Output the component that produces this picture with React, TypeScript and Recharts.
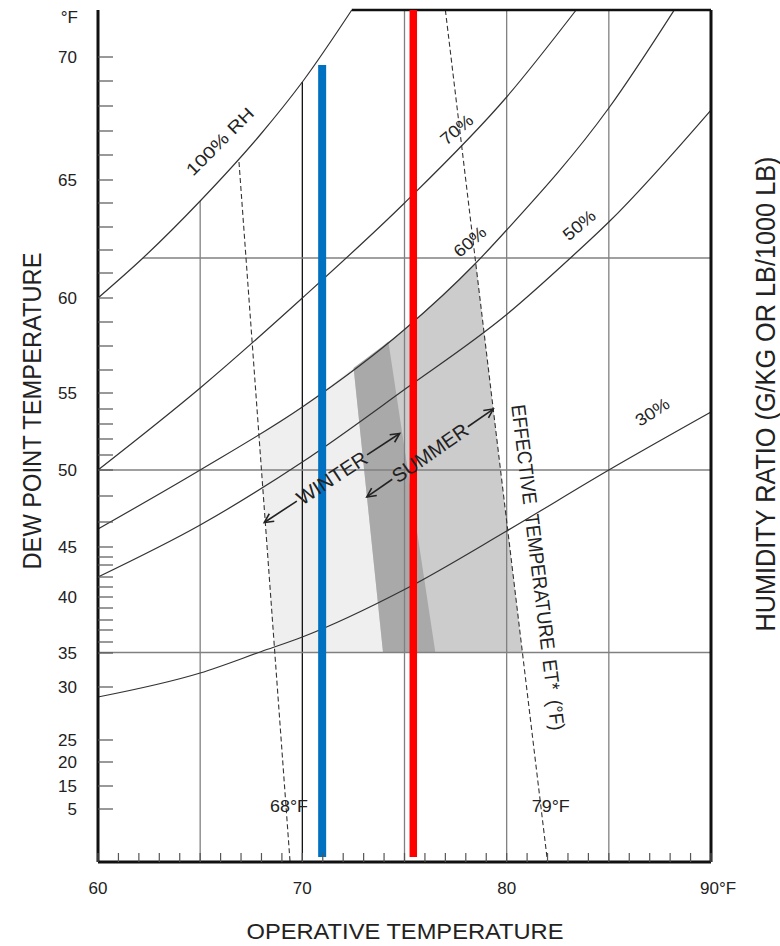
import React from 'react';
import { ComposedChart, Line, Area, Scatter, XAxis, YAxis } from 'recharts';

// operative temperature (°F) against humidity ratio (g/kg)
const W_TOP = 17.04;

const rh100 = [[60, 11.28], [62.2, 12.08], [65, 13.22], [67.95, 14.55], [70, 15.6], [72.42, W_TOP]];
const rh70 = [[60, 7.84], [65, 9.48], [70, 11.28], [75, 13.18], [80, 15.3], [83.4, W_TOP]];
const rh60 = [[60, 6.66], [65, 7.84], [70, 9.1], [75, 10.65], [78.47, 11.97], [80, 12.64], [85, 15.08], [88.2, W_TOP]];
const rh50 = [[60, 5.7], [65, 6.74], [70, 8.0], [75, 9.45], [80, 10.95], [83.12, 12.08], [85, 12.8], [90, 15.04]];
const rh30 = [[60, 3.3], [65, 3.78], [68, 4.21], [70, 4.5], [75, 5.45], [80, 6.62], [85, 7.84], [90, 9.0]];

// effective temperature lines (dashed)
const et68 = [[66.9, 14.0], [69.4, 0]];
const et79 = [[77.0, W_TOP], [82.0, 0]];

// comfort zones: [temp, low, high]
const winterZone = [[67.87, 8.56, 8.56], [68.65, 4.19, 8.76], [70, 4.19, 9.1], [72, 4.19, 9.72], [74.21, 4.19, 10.41], [76.51, 4.19, 4.19]];
const summerZone = [[72.51, 9.88, 9.88], [73.95, 4.19, 10.32], [75, 4.19, 10.65], [76.6, 4.19, 11.24], [78.49, 4.19, 11.98], [80.77, 4.19, 4.19]];
const overlapZone = [[72.51, 9.88, 9.88], [73.95, 4.19, 10.32], [74.21, 4.19, 10.41], [76.51, 4.19, 4.19]];

// grid
const gridTemps = [65, 70, 75, 80, 85];
const gridTops = [13.22, 15.6, W_TOP, W_TOP, W_TOP];
const dewLineW = [12.08, 7.84, 4.19];
const dewLineStart = [62.2, 60, 60];
const topEdge = [[72.42, W_TOP], [90, W_TOP]];

// set points
const blueLine = [[70.97, 0.1], [70.97, 15.94]];
const redLine = [[75.43, 0.1], [75.43, W_TOP]];

// axes
const tempTicks = [60, 61, 62, 63, 64, 65, 66, 67, 68, 69, 70, 71, 72, 73, 74, 75, 76, 77, 78, 79, 80, 81, 82, 83, 84, 85, 86, 87, 88, 89, 90];
const tempLabels: Record<number, string> = { 60: '60', 70: '70', 80: '80', 90: '90°F' };
const dewTicks = [16.1, 15.62, 15.12, 14.62, 14.14, 13.64, 13.18, 12.7, 12.24, 11.78, 11.28, 10.8, 10.32, 9.84, 9.38, 9.06, 8.76, 8.46, 8.14, 7.84, 7.32, 6.8, 6.3, 6.1, 5.94, 5.7, 5.5, 5.3, 5.08, 4.84, 4.64, 4.4, 4.18, 3.5, 2.44, 2.0, 1.52, 1.06];
const dewLabels: Array<[number, string]> = [[16.1, '70'], [13.64, '65'], [11.28, '60'], [9.38, '55'], [7.84, '50'], [6.3, '45'], [5.3, '40'], [4.18, '35'], [3.5, '30'], [2.44, '25'], [2.0, '20'], [1.52, '15'], [1.06, '5']];
const ratioTicks = [1, 2, 3, 4, 5, 6, 7, 8, 9, 10, 11, 12, 13, 14, 15, 16];
const ratioLabels: Record<number, string> = { 5: '5', 10: '10', 15: '15' };

// in-plot annotations
const notes = [
  { t: 65.97, w: 14.41, text: '100% RH', angle: -45, size: 17, len: 88 },
  { t: 77.55, w: 14.65, text: '70%', angle: -40, size: 17, len: 37 },
  { t: 78.2, w: 12.41, text: '60%', angle: -41, size: 17, len: 37 },
  { t: 83.55, w: 12.74, text: '50%', angle: -40, size: 17, len: 37 },
  { t: 87.13, w: 9.0, text: '30%', angle: -33, size: 17, len: 37 },
  { t: 69.35, w: 1.11, text: '68°F', angle: 0, size: 17, len: 38 },
  { t: 82.16, w: 1.11, text: '79°F', angle: 0, size: 17, len: 38 },
  { t: 81.54, w: 5.89, text: 'EFFECTIVE  TEMPERATURE  ET*  (°F)', angle: 83, size: 20, len: 328 },
  { t: 71.45, w: 7.68, text: 'WINTER', angle: -33.3, size: 20, len: 80, arrow: 81 },
  { t: 76.25, w: 8.18, text: 'SUMMER', angle: -34.8, size: 20, len: 88, arrow: 77 },
];

const FONT = '"Liberation Sans", Arial, sans-serif';
const INK = '#222';

const toPts = (arr: number[][]) => arr.map(([t, w]) => ({ t, w }));
const toRange = (arr: number[][]) => arr.map(([t, lo, hi]) => ({ t, r: [lo, hi] }));

const XTick = ({ x, y, payload }: any) => {
  const v = payload.value;
  const lab = tempLabels[v];
  return (
    <g>
      <line x1={x} y1={y} x2={x} y2={y - 9} stroke="#555" strokeWidth={1.2} />
      {lab && (
        <text x={v === 90 ? x - 11 : x} y={y + 32} textAnchor={v === 90 ? 'start' : 'middle'} fontSize={17} fontFamily={FONT} fill={INK}>
          {lab}
        </text>
      )}
    </g>
  );
};

const DewTick = ({ x, y, payload }: any) => {
  const found = dewLabels.find(([w]) => Math.abs(w - payload.value) < 0.001);
  return (
    <g>
      <line x1={x} y1={y} x2={x + 15} y2={y} stroke="#555" strokeWidth={1.2} />
      {found && (
        <text x={x - 21} y={y + 6} textAnchor="end" fontSize={17} fontFamily={FONT} fill={INK}>
          {found[1]}
        </text>
      )}
    </g>
  );
};

const RatioTick = ({ x, y, payload }: any) => {
  const lab = ratioLabels[payload.value];
  return (
    <g>
      <line x1={x} y1={y} x2={x - 16} y2={y} stroke="#555" strokeWidth={1.2} />
      {lab && (
        <text x={x + 13} y={y + 6} textAnchor="start" fontSize={17} fontFamily={FONT} fill={INK}>
          {lab}
        </text>
      )}
    </g>
  );
};

const Note = (props: any) => {
  const { cx, cy, payload } = props;
  const { text, angle, size, len, arrow } = payload;
  const half = len / 2;
  return (
    <g transform={`rotate(${angle} ${cx} ${cy})`}>
      <text x={cx} y={cy} dy="0.35em" textAnchor="middle" fontSize={size} fontFamily={FONT} fill={INK}
        textLength={len} lengthAdjust="spacingAndGlyphs" style={{ whiteSpace: 'pre' }}>
        {text}
      </text>
      {arrow && (
        <g stroke={INK} strokeWidth={1.6} fill="none">
          <line x1={cx - half - 2} y1={cy} x2={cx - arrow} y2={cy} />
          <polyline points={`${cx - arrow + 9},${cy - 4.5} ${cx - arrow},${cy} ${cx - arrow + 9},${cy + 4.5}`} />
          <line x1={cx + half + 2} y1={cy} x2={cx + arrow} y2={cy} />
          <polyline points={`${cx + arrow - 9},${cy - 4.5} ${cx + arrow},${cy} ${cx + arrow - 9},${cy + 4.5}`} />
        </g>
      )}
    </g>
  );
};

const seg = (key: string, data: number[][], stroke: string, width: number, dash?: string, type: any = 'linear') => (
  <Line
    key={key}
    yAxisId="l"
    data={toPts(data)}
    dataKey="w"
    type={type}
    stroke={stroke}
    strokeWidth={width}
    strokeDasharray={dash}
    dot={false}
    activeDot={false}
    legendType="none"
    isAnimationActive={false}
  />
);

export default function App() {
  return (
    <div style={{ position: 'absolute', left: 0, top: 0, width: 780, height: 946, background: '#fff' }}>
      <ComposedChart width={780} height={946} margin={{ top: 10, right: 9, bottom: 44, left: 38 }}>
        <XAxis
          type="number"
          dataKey="t"
          domain={[60, 90]}
          ticks={tempTicks}
          interval={0}
          height={40}
          tickLine={false}
          tickSize={0}
          tickMargin={0}
          axisLine={{ stroke: '#111', strokeWidth: 3 }}
          tick={(p: any) => <XTick {...p} />}
        />
        <YAxis
          yAxisId="l"
          orientation="left"
          type="number"
          dataKey="w"
          domain={[0, W_TOP]}
          ticks={dewTicks}
          interval={0}
          width={60}
          tickLine={false}
          tickSize={0}
          tickMargin={0}
          axisLine={{ stroke: '#111', strokeWidth: 3 }}
          tick={(p: any) => <DewTick {...p} />}
        />
        <YAxis
          yAxisId="r"
          orientation="right"
          type="number"
          domain={[0, W_TOP]}
          ticks={ratioTicks}
          interval={0}
          width={60}
          tickLine={false}
          tickSize={0}
          tickMargin={0}
          axisLine={{ stroke: '#111', strokeWidth: 3 }}
          tick={(p: any) => <RatioTick {...p} />}
        />

        <Area yAxisId="l" data={toRange(winterZone)} dataKey="r" type="linear" stroke="none" fill="#efefef" fillOpacity={1} legendType="none" isAnimationActive={false} />
        <Area yAxisId="l" data={toRange(summerZone)} dataKey="r" type="linear" stroke="none" fill="#cccccc" fillOpacity={1} legendType="none" isAnimationActive={false} />
        <Area yAxisId="l" data={toRange(overlapZone)} dataKey="r" type="linear" stroke="none" fill="#a9a9a9" fillOpacity={1} legendType="none" isAnimationActive={false} />

        {gridTemps.map((t, i) => seg(`v${t}`, [[t, 0], [t, gridTops[i]]], t === 70 ? '#111' : '#808080', 1.3))}
        {dewLineW.map((w, i) => seg(`h${w}`, [[dewLineStart[i], w], [90, w]], '#808080', 1.3))}

        {seg('rh100', rh100, '#333', 1.2, undefined, 'monotone')}
        {seg('rh70', rh70, '#333', 1.2, undefined, 'monotone')}
        {seg('rh60', rh60, '#333', 1.2, undefined, 'monotone')}
        {seg('rh50', rh50, '#333', 1.2, undefined, 'monotone')}
        {seg('rh30', rh30, '#333', 1.2, undefined, 'monotone')}
        {seg('et68', et68, '#333', 1.1, '5 3')}
        {seg('et79', et79, '#333', 1.1, '5 3')}
        {seg('top', topEdge, '#111', 2.6)}

        <Scatter yAxisId="l" data={notes} dataKey="w" shape={(p: any) => <Note {...p} />} legendType="none" isAnimationActive={false} />

        {seg('blue', blueLine, '#0070c0', 8)}
        {seg('red', redLine, '#ff0000', 7.5)}
      </ComposedChart>

      <svg width={780} height={946} style={{ position: 'absolute', left: 0, top: 0, pointerEvents: 'none' }}>
        <g fontFamily={FONT} fill={INK} style={{ whiteSpace: 'pre' }}>
          <text x={78} y={23} textAnchor="end" fontSize={17}>°F</text>
          <text x={32} y={411} dy="0.35em" textAnchor="middle" fontSize={25} textLength={317} lengthAdjust="spacingAndGlyphs"
            transform="rotate(-90 32 411)">DEW  POINT  TEMPERATURE</text>
          <text x={765} y={394} dy="0.35em" textAnchor="middle" fontSize={28} textLength={475} lengthAdjust="spacingAndGlyphs"
            transform="rotate(-90 765 394)">HUMIDITY  RATIO  (G/KG OR LB/1000 LB)</text>
          <text x={405} y={931} dy="0.35em" textAnchor="middle" fontSize={22} textLength={317} lengthAdjust="spacingAndGlyphs">OPERATIVE  TEMPERATURE</text>
        </g>
      </svg>
    </div>
  );
}
